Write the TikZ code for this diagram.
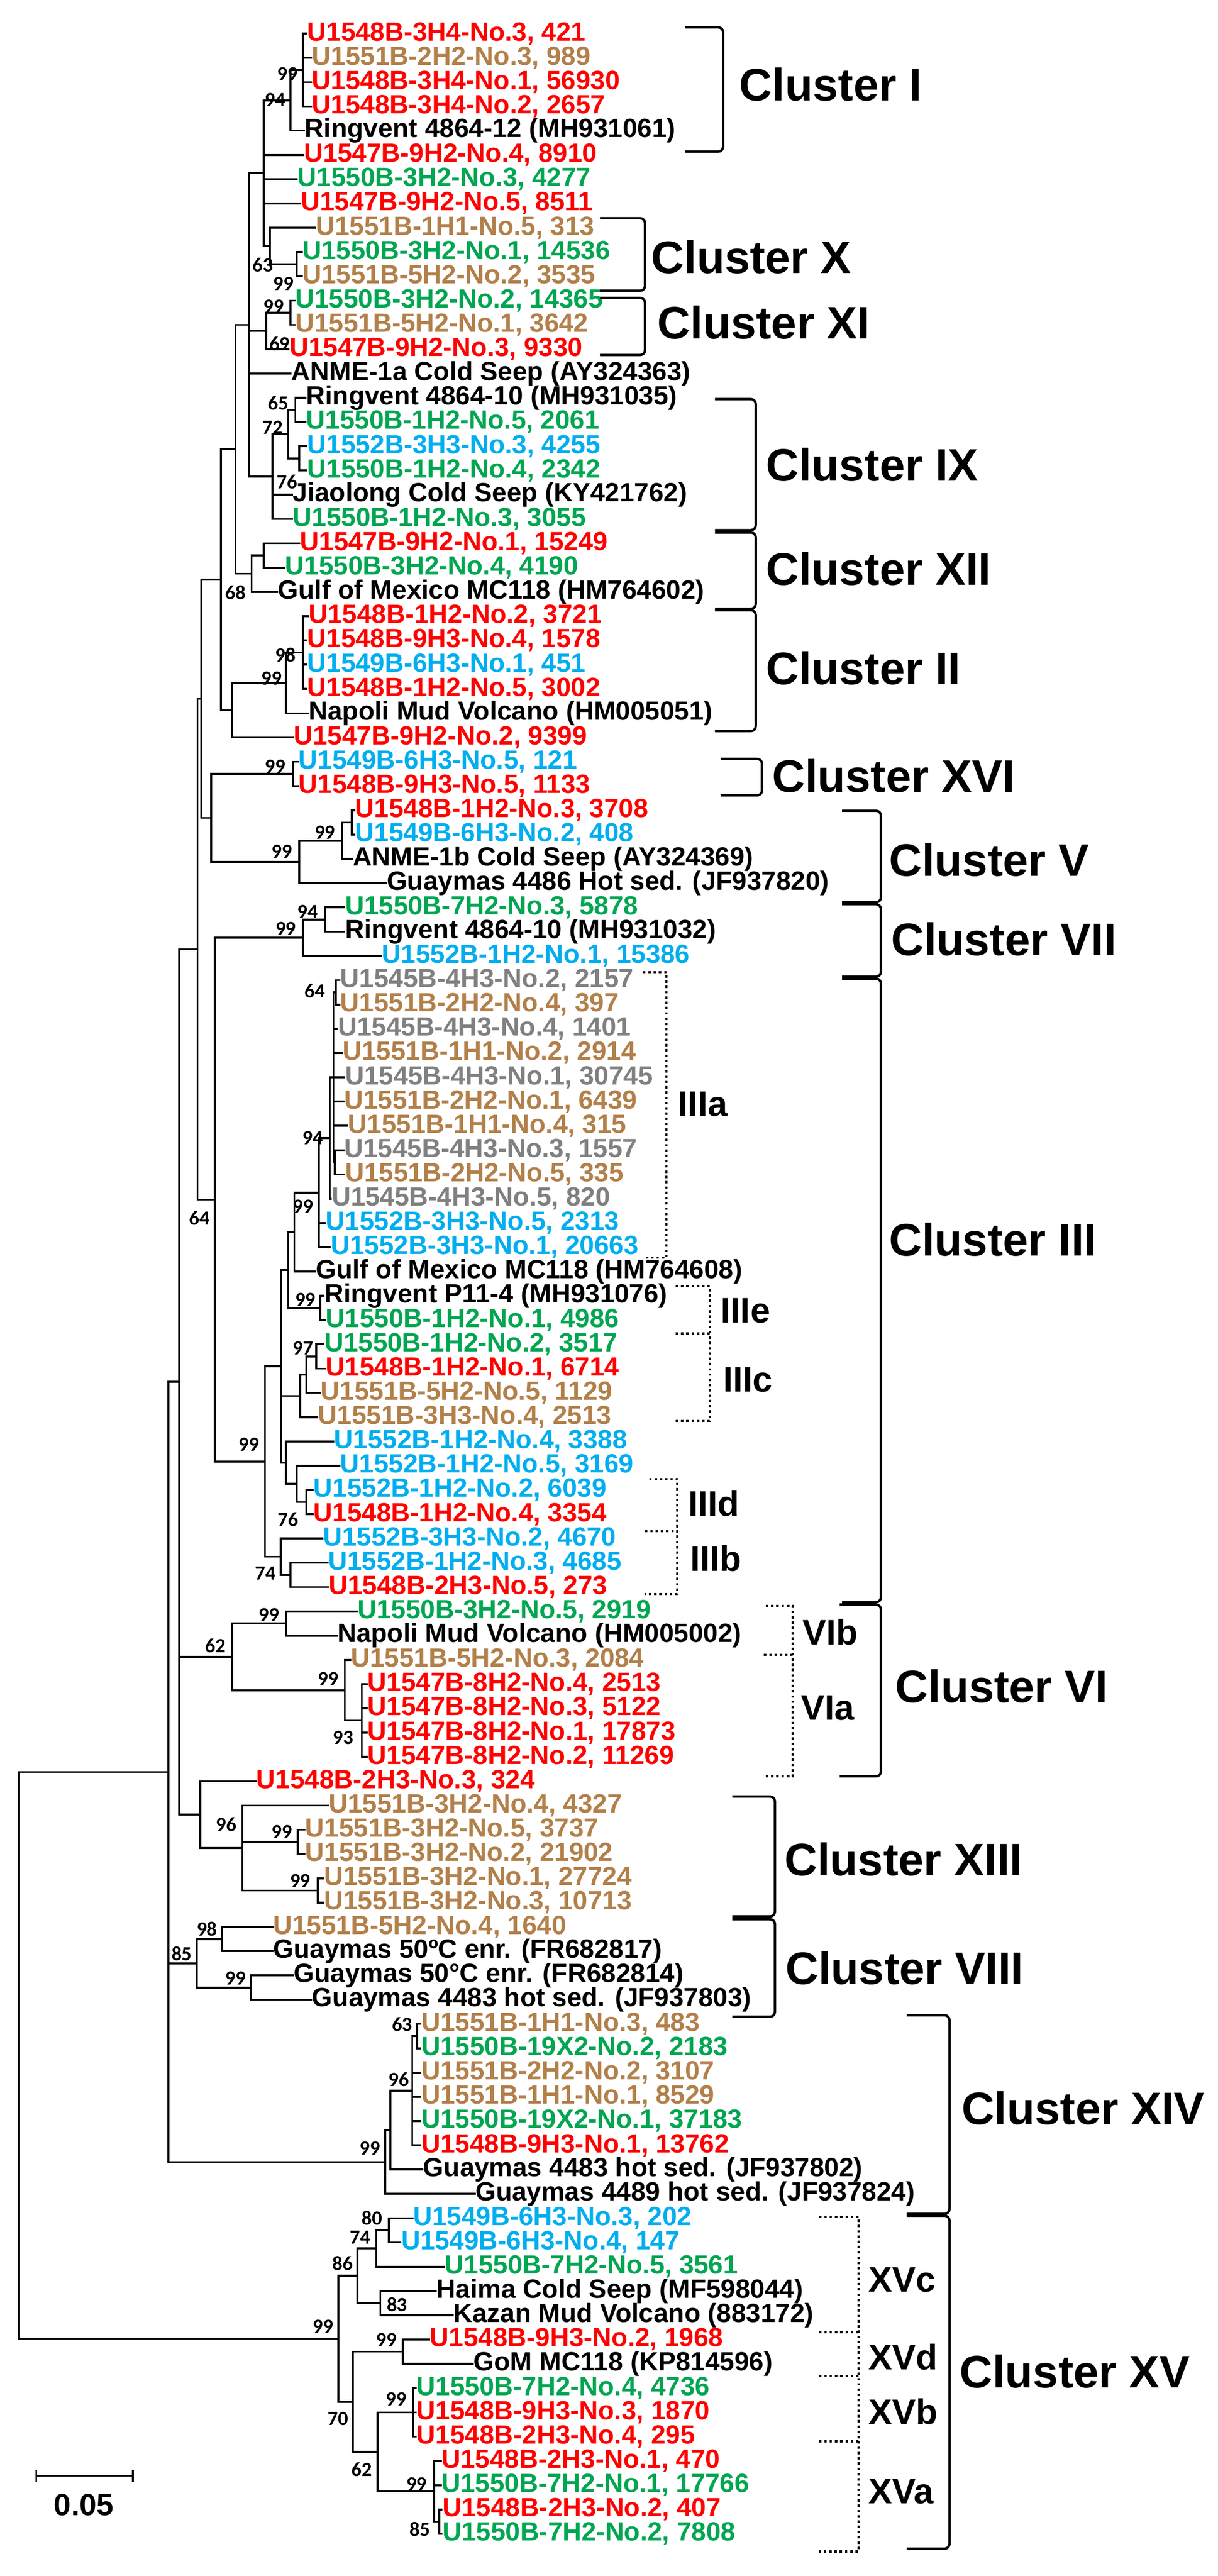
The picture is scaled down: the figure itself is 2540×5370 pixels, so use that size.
\documentclass[tikz,border=0pt]{standalone}
\usepackage{fontspec}
\setmainfont{Liberation Sans}
\newfontfamily\bsfont{Carlito}
\usetikzlibrary{calc}
\definecolor{cred}{RGB}{255,0,0}
\definecolor{cbrown}{RGB}{178,128,74}
\definecolor{cgreen}{RGB}{0,166,81}
\definecolor{cblue}{RGB}{0,174,239}
\definecolor{cgray}{RGB}{128,128,128}
\newcommand\mkleaf[5]{\node[leaf,text=#4] (#1) at (#2,{-19.4-50.6*#3}) {#5};}
\newcommand\mknode[4]{\path let \p1=($(#3)!.5!(#4)$) in coordinate (#1) at (#2pt,\y1);}
\newcommand\kids[2]{\foreach \c in {#2}{\draw[tree] (#1) |- (\c);}}
\newcommand\bsl[3]{\node[bs] at (#1,-#2) {#3};}
\newcommand\cbrk[7]{\draw[cbr] (#1,-#3) -- (#2,-#3) -- (#2,-#4) -- (#1,-#4);\node[clab] (#7) at (#5,-#6) {Cluster #7};}
\begin{document}
\begin{tikzpicture}[x=1pt,y=1pt,
  leaf/.style={anchor=west,inner sep=1.5pt,font=\fontsize{55}{60}\selectfont\bfseries},
  tree/.style={line width=4pt,line cap=rect},
  bs/.style={inner sep=0pt,font=\bsfont\fontsize{42}{44}\selectfont\bfseries},
  cbr/.style={line width=5pt,rounded corners=10pt},
  dbr/.style={line width=4.5pt,dash pattern=on 5pt off 6pt},
  clab/.style={anchor=west,inner sep=0pt,font=\fontsize{95}{100}\selectfont\bfseries},
  slab/.style={anchor=west,inner sep=0pt,font=\fontsize{74}{78}\selectfont\bfseries}]
\useasboundingbox (0,0) rectangle (2540,-5370);
% leaves
\mkleaf{L1}{639}{1}{cred}{U1548B-3H4-No.3, 421}
\mkleaf{L2}{649}{2}{cbrown}{U1551B-2H2-No.3, 989}
\mkleaf{L3}{649}{3}{cred}{U1548B-3H4-No.1, 56930}
\mkleaf{L4}{649}{4}{cred}{U1548B-3H4-No.2, 2657}
\mkleaf{L5}{634}{5}{black}{Ringvent 4864-12 (MH931061)}
\mkleaf{L6}{632}{6}{cred}{U1547B-9H2-No.4, 8910}
\mkleaf{L7}{619}{7}{cgreen}{U1550B-3H2-No.3, 4277}
\mkleaf{L8}{626}{8}{cred}{U1547B-9H2-No.5, 8511}
\mkleaf{L9}{657}{9}{cbrown}{U1551B-1H1-No.5, 313}
\mkleaf{L10}{629}{10}{cgreen}{U1550B-3H2-No.1, 14536}
\mkleaf{L11}{629}{11}{cbrown}{U1551B-5H2-No.2, 3535}
\mkleaf{L12}{614}{12}{cgreen}{U1550B-3H2-No.2, 14365}
\mkleaf{L13}{614}{13}{cbrown}{U1551B-5H2-No.1, 3642}
\mkleaf{L14}{602}{14}{cred}{U1547B-9H2-No.3, 9330}
\mkleaf{L15}{606}{15}{black}{ANME-1a Cold Seep (AY324363)}
\mkleaf{L16}{637}{16}{black}{Ringvent 4864-10 (MH931035)}
\mkleaf{L17}{637}{17}{cgreen}{U1550B-1H2-No.5, 2061}
\mkleaf{L18}{639}{18}{cblue}{U1552B-3H3-No.3, 4255}
\mkleaf{L19}{639}{19}{cgreen}{U1550B-1H2-No.4, 2342}
\mkleaf{L20}{609}{20}{black}{Jiaolong Cold Seep (KY421762)}
\mkleaf{L21}{609}{21}{cgreen}{U1550B-1H2-No.3, 3055}
\mkleaf{L22}{624}{22}{cred}{U1547B-9H2-No.1, 15249}
\mkleaf{L23}{593}{23}{cgreen}{U1550B-3H2-No.4, 4190}
\mkleaf{L24}{578}{24}{black}{Gulf of Mexico MC118 (HM764602)}
\mkleaf{L25}{642}{25}{cred}{U1548B-1H2-No.2, 3721}
\mkleaf{L26}{639}{26}{cred}{U1548B-9H3-No.4, 1578}
\mkleaf{L27}{639}{27}{cblue}{U1549B-6H3-No.1, 451}
\mkleaf{L28}{639}{28}{cred}{U1548B-1H2-No.5, 3002}
\mkleaf{L29}{642}{29}{black}{Napoli Mud Volcano (HM005051)}
\mkleaf{L30}{611}{30}{cred}{U1547B-9H2-No.2, 9399}
\mkleaf{L31}{621}{31}{cblue}{U1549B-6H3-No.5, 121}
\mkleaf{L32}{621}{32}{cred}{U1548B-9H3-No.5, 1133}
\mkleaf{L33}{739}{33}{cred}{U1548B-1H2-No.3, 3708}
\mkleaf{L34}{739}{34}{cblue}{U1549B-6H3-No.2, 408}
\mkleaf{L35}{734}{35}{black}{ANME-1b Cold Seep (AY324369)}
\mkleaf{L36}{805}{36}{black}{Guaymas 4486 Hot sed. (JF937820)}
\mkleaf{L37}{718}{37}{cgreen}{U1550B-7H2-No.3, 5878}
\mkleaf{L38}{718}{38}{black}{Ringvent 4864-10 (MH931032)}
\mkleaf{L39}{795}{39}{cblue}{U1552B-1H2-No.1, 15386}
\mkleaf{L40}{708}{40}{cgray}{U1545B-4H3-No.2, 2157}
\mkleaf{L41}{708}{41}{cbrown}{U1551B-2H2-No.4, 397}
\mkleaf{L42}{703}{42}{cgray}{U1545B-4H3-No.4, 1401}
\mkleaf{L43}{713}{43}{cbrown}{U1551B-1H1-No.2, 2914}
\mkleaf{L44}{718}{44}{cgray}{U1545B-4H3-No.1, 30745}
\mkleaf{L45}{716}{45}{cbrown}{U1551B-2H2-No.1, 6439}
\mkleaf{L46}{724}{46}{cbrown}{U1551B-1H1-No.4, 315}
\mkleaf{L47}{716}{47}{cgray}{U1545B-4H3-No.3, 1557}
\mkleaf{L48}{718}{48}{cbrown}{U1551B-2H2-No.5, 335}
\mkleaf{L49}{690}{49}{cgray}{U1545B-4H3-No.5, 820}
\mkleaf{L50}{678}{50}{cblue}{U1552B-3H3-No.5, 2313}
\mkleaf{L51}{688}{51}{cblue}{U1552B-3H3-No.1, 20663}
\mkleaf{L52}{657}{52}{black}{Gulf of Mexico MC118 (HM764608)}
\mkleaf{L53}{675}{53}{black}{Ringvent P11-4 (MH931076)}
\mkleaf{L54}{678}{54}{cgreen}{U1550B-1H2-No.1, 4986}
\mkleaf{L55}{675}{55}{cgreen}{U1550B-1H2-No.2, 3517}
\mkleaf{L56}{678}{56}{cred}{U1548B-1H2-No.1, 6714}
\mkleaf{L57}{667}{57}{cbrown}{U1551B-5H2-No.5, 1129}
\mkleaf{L58}{662}{58}{cbrown}{U1551B-3H3-No.4, 2513}
\mkleaf{L59}{695}{59}{cblue}{U1552B-1H2-No.4, 3388}
\mkleaf{L60}{708}{60}{cblue}{U1552B-1H2-No.5, 3169}
\mkleaf{L61}{652}{61}{cblue}{U1552B-1H2-No.2, 6039}
\mkleaf{L62}{652}{62}{cred}{U1548B-1H2-No.4, 3354}
\mkleaf{L63}{672}{63}{cblue}{U1552B-3H3-No.2, 4670}
\mkleaf{L64}{683}{64}{cblue}{U1552B-1H2-No.3, 4685}
\mkleaf{L65}{684}{65}{cred}{U1548B-2H3-No.5, 273}
\mkleaf{L66}{744}{66}{cgreen}{U1550B-3H2-No.5, 2919}
\mkleaf{L67}{702}{67}{black}{Napoli Mud Volcano (HM005002)}
\mkleaf{L68}{730}{68}{cbrown}{U1551B-5H2-No.3, 2084}
\mkleaf{L69}{765}{69}{cred}{U1547B-8H2-No.4, 2513}
\mkleaf{L70}{765}{70}{cred}{U1547B-8H2-No.3, 5122}
\mkleaf{L71}{765}{71}{cred}{U1547B-8H2-No.1, 17873}
\mkleaf{L72}{765}{72}{cred}{U1547B-8H2-No.2, 11269}
\mkleaf{L73}{533}{73}{cred}{U1548B-2H3-No.3, 324}
\mkleaf{L74}{684}{74}{cbrown}{U1551B-3H2-No.4, 4327}
\mkleaf{L75}{635}{75}{cbrown}{U1551B-3H2-No.5, 3737}
\mkleaf{L76}{635}{76}{cbrown}{U1551B-3H2-No.2, 21902}
\mkleaf{L77}{674}{77}{cbrown}{U1551B-3H2-No.1, 27724}
\mkleaf{L78}{674}{78}{cbrown}{U1551B-3H2-No.3, 10713}
\mkleaf{L79}{568}{79}{cbrown}{U1551B-5H2-No.4, 1640}
\mkleaf{L80}{568}{80}{black}{Guaymas 50ºC enr. (FR682817)}
\mkleaf{L81}{611}{81}{black}{Guaymas 50°C enr. (FR682814)}
\mkleaf{L82}{649}{82}{black}{Guaymas 4483 hot sed. (JF937803)}
\mkleaf{L83}{877}{83}{cbrown}{U1551B-1H1-No.3, 483}
\mkleaf{L84}{877}{84}{cgreen}{U1550B-19X2-No.2, 2183}
\mkleaf{L85}{877}{85}{cbrown}{U1551B-2H2-No.2, 3107}
\mkleaf{L86}{877}{86}{cbrown}{U1551B-1H1-No.1, 8529}
\mkleaf{L87}{877}{87}{cgreen}{U1550B-19X2-No.1, 37183}
\mkleaf{L88}{877}{88}{cred}{U1548B-9H3-No.1, 13762}
\mkleaf{L89}{881}{89}{black}{Guaymas 4483 hot sed. (JF937802)}
\mkleaf{L90}{990}{90}{black}{Guaymas 4489 hot sed. (JF937824)}
\mkleaf{L91}{860}{91}{cblue}{U1549B-6H3-No.3, 202}
\mkleaf{L92}{835}{92}{cblue}{U1549B-6H3-No.4, 147}
\mkleaf{L93}{926}{93}{cgreen}{U1550B-7H2-No.5, 3561}
\mkleaf{L94}{909}{94}{black}{Haima Cold Seep (MF598044)}
\mkleaf{L95}{944}{95}{black}{Kazan Mud Volcano (883172)}
\mkleaf{L96}{895}{96}{cred}{U1548B-9H3-No.2, 1968}
\mkleaf{L97}{986}{97}{black}{GoM MC118 (KP814596)}
\mkleaf{L98}{867}{98}{cgreen}{U1550B-7H2-No.4, 4736}
\mkleaf{L99}{867}{99}{cred}{U1548B-9H3-No.3, 1870}
\mkleaf{L100}{867}{100}{cred}{U1548B-2H3-No.4, 295}
\mkleaf{L101}{919}{101}{cred}{U1548B-2H3-No.1, 470}
\mkleaf{L102}{919}{102}{cgreen}{U1550B-7H2-No.1, 17766}
\mkleaf{L103}{921}{103}{cred}{U1548B-2H3-No.2, 407}
\mkleaf{L104}{921}{104}{cgreen}{U1550B-7H2-No.2, 7808}
% internal nodes
\mknode{a99}{631.6}{L1}{L4}\kids{a99}{L1,L2,L3,L4}
\mknode{a94}{606}{a99}{L5}\kids{a94}{a99,L5}
\mknode{a63b}{619}{L10}{L11}\kids{a63b}{L10,L11}
\mknode{a63}{562.8}{L9}{a63b}\kids{a63}{L9,a63b}
\mknode{Q}{550}{a94}{a63}\kids{Q}{a94,L6,L7,L8,a63}
\mknode{Rc}{606}{L12}{L13}\kids{Rc}{L12,L13}
\mknode{R}{555}{Rc}{L14}\kids{R}{Rc,L14}
\mknode{a65}{616}{L16}{L17}\kids{a65}{L16,L17}
\mknode{a76}{624}{L18}{L19}\kids{a76}{L18,L19}
\mknode{a72}{601}{a65}{a76}\kids{a72}{a65,a76}
\mknode{S}{568}{a72}{L21}\kids{S}{a72,L20,L21}
\mknode{P}{519.4}{Q}{S}\kids{P}{Q,R,L15,S}
\mknode{U}{550}{L22}{L23}\kids{U}{L22,L23}
\mknode{N68}{524.5}{U}{L24}\kids{N68}{U,L24}
\mknode{T}{491.3}{P}{N68}\kids{T}{P,N68}
\mknode{N98}{631.6}{L25}{L28}\kids{N98}{L25,L26,L27,L28}
\mknode{N99d}{596}{N98}{L29}\kids{N99d}{N98,L29}
\mknode{V}{483.7}{N99d}{L30}\kids{V}{N99d,L30}
\mknode{W}{460.7}{T}{V}\kids{W}{T,V}
\mknode{N99e}{611}{L31}{L32}\kids{N99e}{L31,L32}
\mknode{N99h}{733.7}{L33}{L34}\kids{N99h}{L33,L34}
\mknode{N99g}{713}{N99h}{L35}\kids{N99g}{N99h,L35}
\mknode{N99f}{624}{N99g}{L36}\kids{N99f}{N99g,L36}
\mknode{Z}{440.3}{N99e}{N99f}\kids{Z}{N99e,N99f}
\mknode{X}{420}{W}{Z}\kids{X}{W,Z}
\mknode{N94b}{677.5}{L37}{L38}\kids{N94b}{L37,L38}
\mknode{N99i}{631.6}{N94b}{L39}\kids{N99i}{N94b,L39}
\mknode{N64}{700.5}{L40}{L41}\kids{N64}{L40,L41}
\mknode{N4748}{698}{L47}{L48}\kids{N4748}{L47,L48}
\mknode{S1}{695.4}{N64}{N4748}\kids{S1}{N64,L42,L43,L44,L45,L46,N4748}
\mknode{n94III}{687.8}{S1}{L49}\kids{n94III}{S1,L49}
\mknode{IIIa}{664.8}{n94III}{L51}\kids{IIIa}{n94III,L50,L51}
\mknode{NN}{613.8}{IIIa}{L52}\kids{NN}{IIIa,L52}
\mknode{N99r}{668.4}{L53}{L54}\kids{N99r}{L53,L54}
\mknode{MM}{601}{NN}{N99r}\kids{MM}{NN,N99r}
\mknode{N97}{659.7}{L55}{L56}\kids{N97}{L55,L56}
\mknode{RR}{639.3}{N97}{L57}\kids{RR}{N97,L57}
\mknode{OO}{626.5}{RR}{L58}\kids{OO}{RR,L58}
\mknode{N76b}{639.3}{L61}{L62}\kids{N76b}{L61,L62}
\mknode{QQ}{619}{L60}{N76b}\kids{QQ}{L60,N76b}
\mknode{PP}{596}{L59}{QQ}\kids{PP}{L59,QQ}
\mknode{LL}{586.7}{MM}{PP}\kids{LL}{MM,OO,PP}
\mknode{Nin}{606}{L64}{L65}\kids{Nin}{L64,L65}
\mknode{N74c}{585.7}{L63}{Nin}\kids{N74c}{L63,Nin}
\mknode{N99III}{552.5}{LL}{N74c}\kids{N99III}{LL,N74c}
\mknode{AA}{448}{N99i}{N99III}\kids{AA}{N99i,N99III}
\mknode{Y}{412}{X}{AA}\kids{Y}{X,AA}
\mknode{N99j}{596.5}{L66}{L67}\kids{N99j}{L66,L67}
\mknode{N93}{754.4}{L69}{L72}\kids{N93}{L69,L70,L71,L72}
\mknode{N99k}{719}{L68}{N93}\kids{N99k}{L68,N93}
\mknode{EE}{484}{N99j}{N99k}\kids{EE}{N99j,N99k}
\mknode{N99l}{621}{L75}{L76}\kids{N99l}{L75,L76}
\mknode{N99m}{663}{L77}{L78}\kids{N99m}{L77,L78}
\mknode{N96}{505.3}{L74}{N99m}\kids{N96}{L74,N99l,N99m}
\mknode{DD}{417.6}{L73}{N96}\kids{DD}{L73,N96}
\mknode{BB}{374}{Y}{DD}\kids{BB}{Y,EE,DD}
\mknode{N98b}{463}{L79}{L80}\kids{N98b}{L79,L80}
\mknode{N99n}{523}{L81}{L82}\kids{N99n}{L81,L82}
\mknode{GG}{410.6}{N98b}{N99n}\kids{GG}{N98b,N99n}
\mknode{N63b}{870}{L83}{L84}\kids{N63b}{L83,L84}
\mknode{JJ}{859.7}{N63b}{L88}\kids{JJ}{N63b,L85,L86,L87,L88}
\mknode{II}{814}{JJ}{L89}\kids{II}{JJ,L89}
\mknode{HH}{803.6}{II}{L90}\kids{HH}{II,L90}
\mknode{CC}{351}{BB}{HH}\kids{CC}{BB,GG,HH}
\mknode{N80}{810.6}{L91}{L92}\kids{N80}{L91,L92}
\mknode{N74d}{784.6}{N80}{L93}\kids{N74d}{N80,L93}
\mknode{N83}{793}{L94}{L95}\kids{N83}{L94,L95}
\mknode{N86}{745.3}{N74d}{N83}\kids{N86}{N74d,N83}
\mknode{N99o}{840}{L96}{L97}\kids{N99o}{L96,L97}
\mknode{N99p}{861}{L98}{L100}\kids{N99p}{L98,L99,L100}
\mknode{N85}{915.8}{L103}{L104}\kids{N85}{L103,L104}
\mknode{N99q}{905.3}{L101}{N85}\kids{N99q}{L101,L102,N85}
\mknode{N62}{787.4}{N99p}{N99q}\kids{N62}{N99p,N99q}
\mknode{N70}{735.5}{N99o}{N62}\kids{N70}{N99o,N62}
\mknode{KK}{705.3}{N86}{N70}\kids{KK}{N86,N70}
\mknode{root}{40}{CC}{KK}\kids{root}{CC,KK}
% bootstrap values
\bsl{600}{154}{99}\bsl{574}{208.5}{94}\bsl{548.5}{552.7}{63}\bsl{590.8}{591.5}{99}
\bsl{570.4}{638.4}{99}\bsl{583}{717}{69}\bsl{580.6}{839.7}{65}\bsl{568.9}{891}{72}
\bsl{598.5}{1004.9}{76}\bsl{491.3}{1234.8}{68}\bsl{595}{1364.7}{98}\bsl{566.3}{1413.8}{99}
\bsl{574}{1598.2}{99}\bsl{677.6}{1735.3}{99}\bsl{588.3}{1775.4}{99}\bsl{641.8}{1900.4}{94}
\bsl{595.9}{1936}{99}\bsl{657}{2066}{64}\bsl{652}{2371.9}{94}\bsl{631.6}{2514.7}{99}
\bsl{416.3}{2539.3}{64}\bsl{636.7}{2709.4}{99}\bsl{631.6}{2809.8}{97}\bsl{519.4}{3010.7}{99}
\bsl{601}{3167}{76}\bsl{553.5}{3279.6}{74}\bsl{561.4}{3366.3}{99}\bsl{449.2}{3431.1}{62}
\bsl{684.3}{3500}{99}\bsl{715.8}{3622.4}{93}\bsl{471.6}{3803.6}{96}\bsl{588}{3818.9}{99}
\bsl{626}{3920.9}{99}\bsl{431.6}{4021.4}{98}\bsl{379}{4072.4}{85}\bsl{491.3}{4123.5}{99}
\bsl{838.6}{4220.4}{63}\bsl{831.6}{4335.2}{96}\bsl{772}{4478}{99}\bsl{775.5}{4623.5}{80}
\bsl{751}{4664.3}{74}\bsl{714.4}{4717.9}{86}\bsl{828}{4803.8}{83}\bsl{673.7}{4849.7}{99}
\bsl{805.7}{4877.3}{99}\bsl{826.7}{5001.2}{99}\bsl{705.3}{5042.5}{70}\bsl{754.4}{5148.1}{62}
\bsl{868.8}{5178}{99}\bsl{875.8}{5272}{85}
% cluster brackets
\cbrk{1429}{1508}{57}{316}{1542}{176}{I}
\cbrk{1251}{1345}{455}{606}{1358}{536}{X}
\cbrk{1251}{1345}{621}{740}{1371}{672}{XI}
\cbrk{1491}{1576}{832}{1105}{1597}{969}{IX}
\cbrk{1491}{1576}{1110}{1269}{1597}{1186}{XII}
\cbrk{1491}{1576}{1272}{1524}{1597}{1393}{II}
\cbrk{1503}{1589}{1582}{1658}{1610}{1617}{XVI}
\cbrk{1756}{1837}{1690}{1881}{1854}{1792}{V}
\cbrk{1756}{1837}{1885}{2036}{1858}{1958}{VII}
\cbrk{1756}{1837}{2040}{3340}{1854}{2584}{III}
\cbrk{1751}{1837}{3345}{3703}{1867}{3515}{VI}
\cbrk{1527}{1616}{3745}{3995}{1636}{3876}{XIII}
\cbrk{1527}{1616}{4001}{4204}{1638}{4102}{VIII}
\cbrk{1891}{1980}{4201}{4615}{2005}{4395}{XIV}
\cbrk{1891}{1980}{4619}{5313}{2001}{4943}{XV}
% sub-cluster dotted brackets
\draw[dbr] (1341,-2027) -- (1390,-2027) -- (1390,-2622) -- (1341,-2622);
\node[slab] (s3a) at (1414,-2302) {IIIa};
\draw[dbr] (1409,-2681) -- (1480,-2681) -- (1480,-2962) -- (1409,-2962);
\draw[dbr] (1409,-2780) -- (1480,-2780);
\node[slab] (s3e) at (1503,-2732) {IIIe};
\node[slab] (s3c) at (1508,-2876) {IIIc};
\draw[dbr] (1354,-3083) -- (1412,-3083) -- (1412,-3323) -- (1345,-3323);
\draw[dbr] (1345,-3191.5) -- (1412,-3191.5);
\node[slab] (s3d) at (1435,-3134) {IIId};
\node[slab] (s3b) at (1439,-3249) {IIIb};
\draw[dbr] (1597,-3348) -- (1653,-3348) -- (1653,-3703) -- (1593,-3703);
\draw[dbr] (1593,-3450) -- (1653,-3450);
\node[slab] (s6b) at (1674,-3402) {VIb};
\node[slab] (s6a) at (1670,-3560) {VIa};
\draw[dbr] (1708,-4621) -- (1790,-4621) -- (1790,-5319) -- (1708,-5319);
\foreach \yy in {4862,4953,5089}{\draw[dbr] (1708,-\yy) -- (1790,-\yy);}
\node[slab] (s15c) at (1811,-4752) {XVc};
\node[slab] (s15d) at (1811,-4913) {XVd};
\node[slab] (s15b) at (1811,-5027) {XVb};
\node[slab] (s15a) at (1811,-5194) {XVa};
% scale bar
\coordinate (sb1) at (75.8,-5161);
\coordinate (sb2) at (277.2,-5161);
\draw[line width=4pt] (sb1) -- (sb2);
\draw[line width=4pt] ($(sb1)+(0,12)$) -- ($(sb1)+(0,-12)$);
\draw[line width=4pt] ($(sb2)+(0,12)$) -- ($(sb2)+(0,-12)$);
\node[font=\fontsize{64}{66}\selectfont\bfseries] (sbl) at (175,-5222) {0.05};
\end{tikzpicture}
\end{document}
